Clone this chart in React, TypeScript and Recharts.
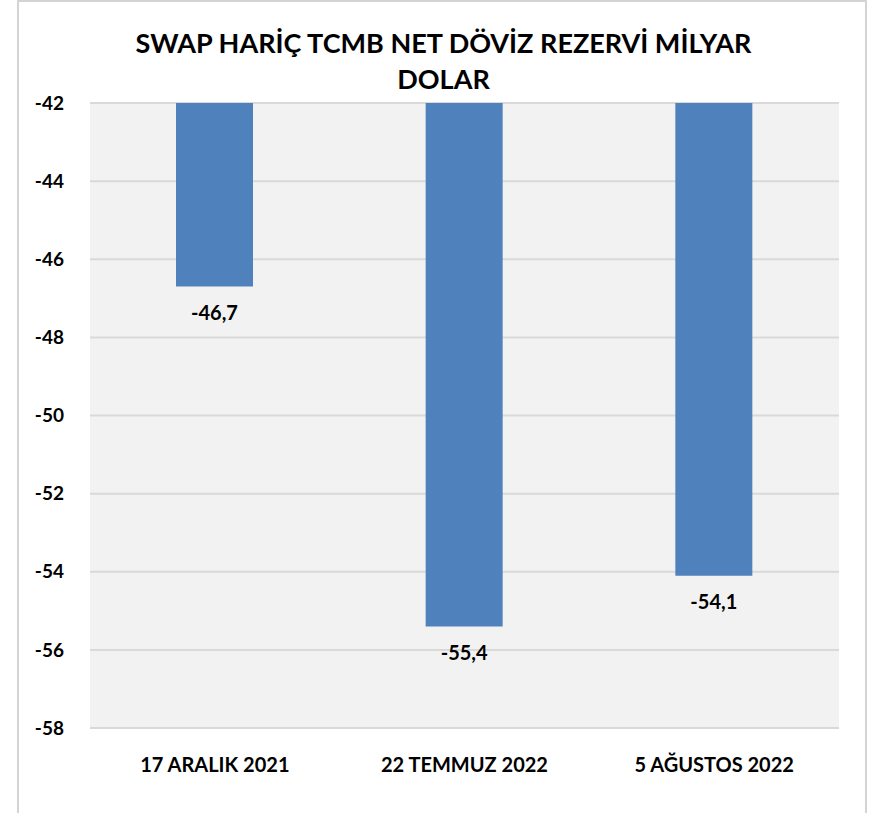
import { BarChart, Bar, XAxis, YAxis, CartesianGrid, LabelList } from "recharts";

const categories = ["17 ARALIK 2021", "22 TEMMUZ 2022", "5 AĞUSTOS 2022"];
const reserves = [-46.7, -55.4, -54.1];
const yTicks = [-58, -56, -54, -52, -50, -48, -46, -44, -42];

const data = categories.map((name, i) => ({ name, value: reserves[i] }));

const FONT = "Lato, 'Open Sans', sans-serif";

const fmt = (v: number) => String(v).replace(".", ",");

function ValueLabel(props: any) {
  const { x, y, width, height, value } = props;
  const bottom = Math.max(y, y + height);
  return (
    <text
      x={x + width / 2}
      y={bottom + 28}
      textAnchor="middle"
      dominantBaseline="middle"
      fontFamily={FONT}
      fontWeight={700}
      fontSize={20}
      fill="#000"
    >
      {fmt(value)}
    </text>
  );
}

export default function App() {
  return (
    <div style={{ position: "absolute", left: 0, top: 0, width: 871, height: 813, background: "#fff", overflow: "hidden" }}>
      <div
        style={{
          position: "absolute",
          left: 17,
          top: 0,
          width: 846,
          height: 840,
          border: "2px solid #d4d4d4",
        }}
      />
      <div
        style={{
          position: "absolute",
          left: 0,
          top: 25,
          width: 887,
          textAlign: "center",
          fontFamily: FONT,
          fontWeight: 700,
          fontSize: 27,
          lineHeight: "36px",
          color: "#000",
        }}
      >
        SWAP HARİÇ TCMB NET DÖVİZ REZERVİ MİLYAR
        <br />
        DOLAR
      </div>
      <div style={{ position: "absolute", left: 0, top: 0 }}>
        <BarChart
          width={871}
          height={813}
          data={data}
          margin={{ top: 103, right: 32, bottom: 45, left: 30 }}
          barSize={77}
        >
          <CartesianGrid vertical={false} fill="#f2f2f2" stroke="#d9d9d9" strokeWidth={2} />
          <XAxis
            dataKey="name"
            height={40}
            axisLine={{ stroke: "#d9d9d9", strokeWidth: 2 }}
            tickLine={false}
            tickMargin={24}
            tick={{ fontFamily: FONT, fontWeight: 700, fontSize: 20, fill: "#000" }}
          />
          <YAxis
            width={60}
            domain={[-58, -42]}
            ticks={yTicks}
            axisLine={false}
            tickLine={false}
            tickMargin={20}
            tick={{ fontFamily: FONT, fontWeight: 700, fontSize: 19, fill: "#000" }}
          />
          <Bar dataKey="value" fill="#4f81bd" isAnimationActive={false}>
            <LabelList dataKey="value" content={ValueLabel} />
          </Bar>
        </BarChart>
      </div>
    </div>
  );
}
